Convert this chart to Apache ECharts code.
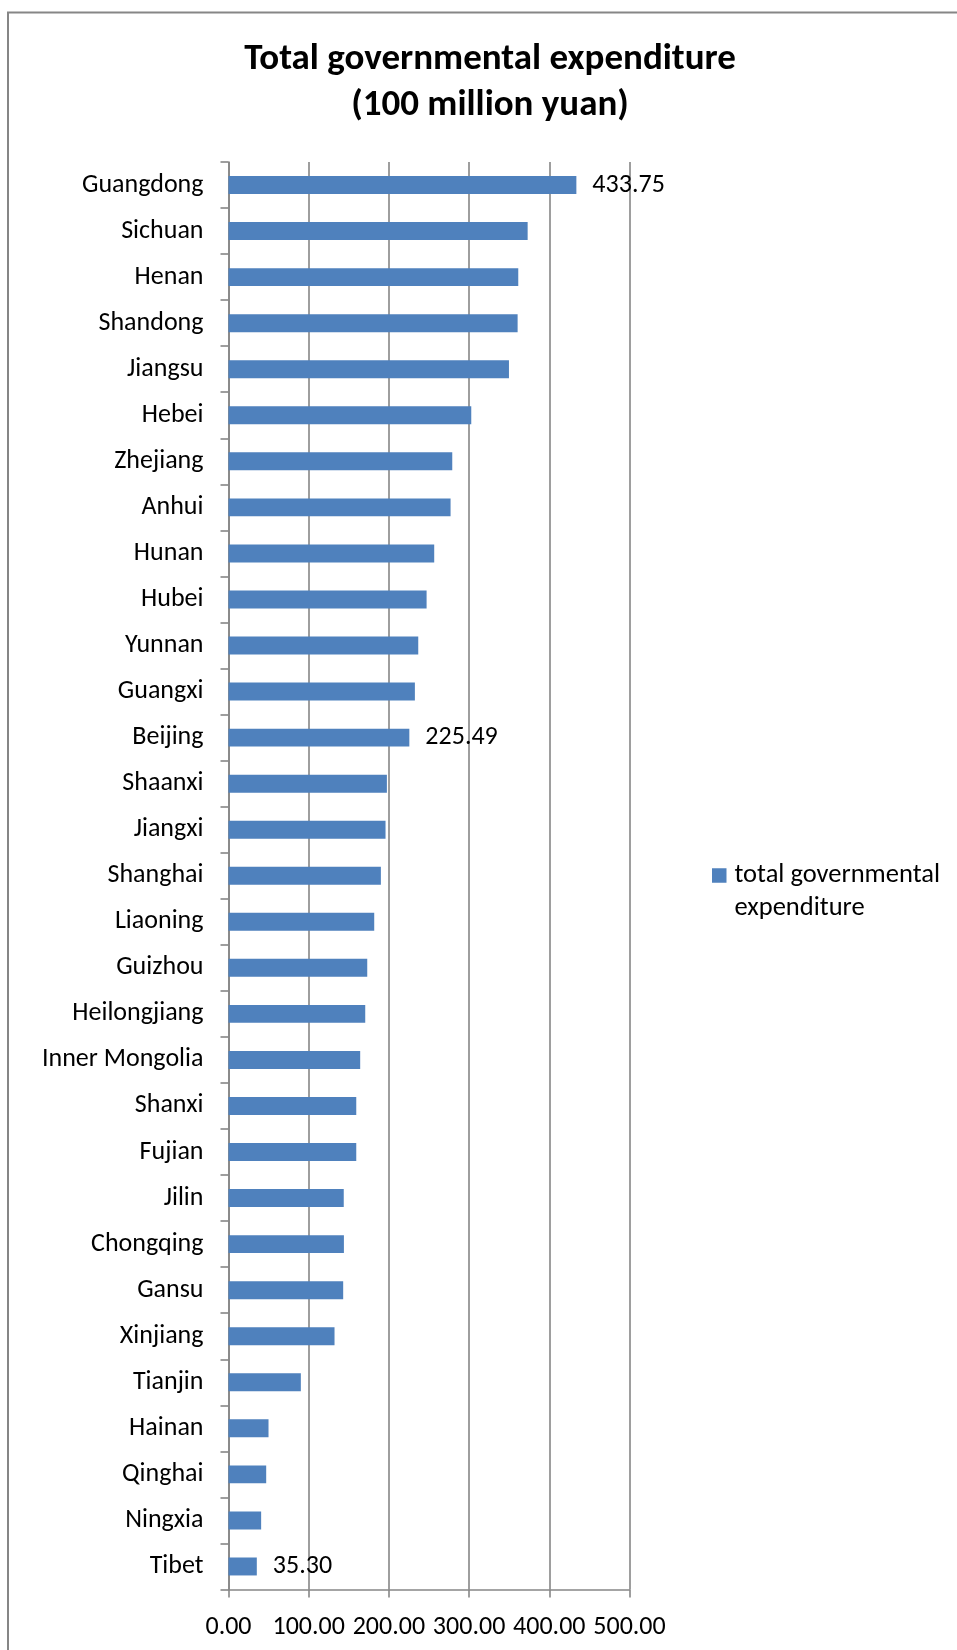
<!DOCTYPE html>
<html>
<head>
<meta charset="utf-8">
<script src="https://cdn.jsdelivr.net/npm/echarts@6/dist/echarts.min.js"></script>
<style>
  html, body { margin: 0; padding: 0; background: #ffffff; }
  #chart { width: 957px; height: 1650px; }
</style>
</head>
<body>
<div id="chart"></div>
<script>
// Provinces, ordered from largest to smallest expenditure
const provinces = [
  'Guangdong', 'Sichuan', 'Henan', 'Shandong', 'Jiangsu', 'Hebei', 'Zhejiang',
  'Anhui', 'Hunan', 'Hubei', 'Yunnan', 'Guangxi', 'Beijing', 'Shaanxi',
  'Jiangxi', 'Shanghai', 'Liaoning', 'Guizhou', 'Heilongjiang', 'Inner Mongolia',
  'Shanxi', 'Fujian', 'Jilin', 'Chongqing', 'Gansu', 'Xinjiang', 'Tianjin',
  'Hainan', 'Qinghai', 'Ningxia', 'Tibet'
];

// Total governmental expenditure, 100 million yuan
const expenditure = [
  433.75, 373.0, 361.3, 360.5, 349.7, 302.7, 279.0,
  276.9, 256.5, 247.0, 236.6, 232.4, 225.49, 197.5,
  195.8, 190.0, 181.7, 173.0, 170.5, 164.2,
  159.3, 159.3, 143.7, 143.9, 143.0, 132.2, 90.2,
  49.9, 47.0, 40.7, 35.30
];

// Bars that carry a value label
const labelledProvinces = ['Guangdong', 'Beijing', 'Tibet'];

// Value axis ticks
const axisTicks = [0, 100, 200, 300, 400, 500];

const seriesName = 'total governmental expenditure';
const legendLines = ['total governmental', 'expenditure'];
const titleLines = ['Total governmental expenditure', '(100 million yuan)'];

const FONT = 'Carlito, Calibri, Lato, sans-serif';
const GRAY = '#868686';
const BLUE = '#4F81BD';

const barData = provinces.map((name, i) => ({
  value: expenditure[i],
  label: { show: labelledProvinces.includes(name) }
}));

const chart = echarts.init(document.getElementById('chart'), null, { renderer: 'canvas' });

chart.setOption({
  backgroundColor: '#ffffff',
  animation: false,
  title: {
    text: titleLines.join('\n'),
    left: 490,
    top: 37,
    textAlign: 'center',
    padding: 0,
    textStyle: {
      fontFamily: FONT,
      fontWeight: 'bold',
      fontSize: 37,
      lineHeight: 46,
      color: '#000000'
    }
  },
  legend: {
    left: 712,
    top: 826,
    padding: 0,
    itemWidth: 14.5,
    itemHeight: 14.5,
    icon: 'rect',
    selectedMode: false,
    // a leading empty line keeps the first text line level with the swatch
    formatter: () => '\n' + legendLines.join('\n'),
    textStyle: {
      fontFamily: FONT,
      fontSize: 26.5,
      lineHeight: 33,
      color: '#000000',
      padding: [0, 0, 0, 3]
    },
    data: [seriesName]
  },
  grid: {
    left: 228.5,
    top: 162,
    width: 401,
    height: 1427.5
  },
  xAxis: {
    type: 'value',
    min: axisTicks[0],
    max: axisTicks[axisTicks.length - 1],
    interval: axisTicks[1] - axisTicks[0],
    axisLine: { show: true, lineStyle: { color: GRAY, width: 1.6 } },
    axisTick: { show: true, length: 8, lineStyle: { color: GRAY, width: 1.6 } },
    splitLine: { show: true, lineStyle: { color: GRAY, width: 1.6 } },
    axisLabel: {
      margin: 25,
      fontFamily: FONT,
      fontSize: 26,
      color: '#000000',
      formatter: v => v.toFixed(2)
    }
  },
  yAxis: {
    type: 'category',
    inverse: true,
    data: provinces,
    axisLine: { show: true, lineStyle: { color: GRAY, width: 1.6 } },
    axisTick: { show: true, length: 8, lineStyle: { color: GRAY, width: 1.6 } },
    splitLine: { show: false },
    axisLabel: {
      margin: 25,
      fontFamily: FONT,
      fontSize: 26,
      color: '#000000'
    }
  },
  series: [{
    name: seriesName,
    type: 'bar',
    data: barData,
    barCategoryGap: '61%',
    itemStyle: { color: BLUE },
    label: {
      position: 'right',
      distance: 16,
      fontFamily: FONT,
      fontSize: 26,
      color: '#000000',
      formatter: p => p.value.toFixed(2)
    }
  }],
  graphic: [{
    type: 'polyline',
    silent: true,
    shape: { points: [[8, 1700], [8, 12.5], [1000, 12.5]] },
    style: { stroke: GRAY, lineWidth: 2, fill: null }
  }]
});
</script>
</body>
</html>
